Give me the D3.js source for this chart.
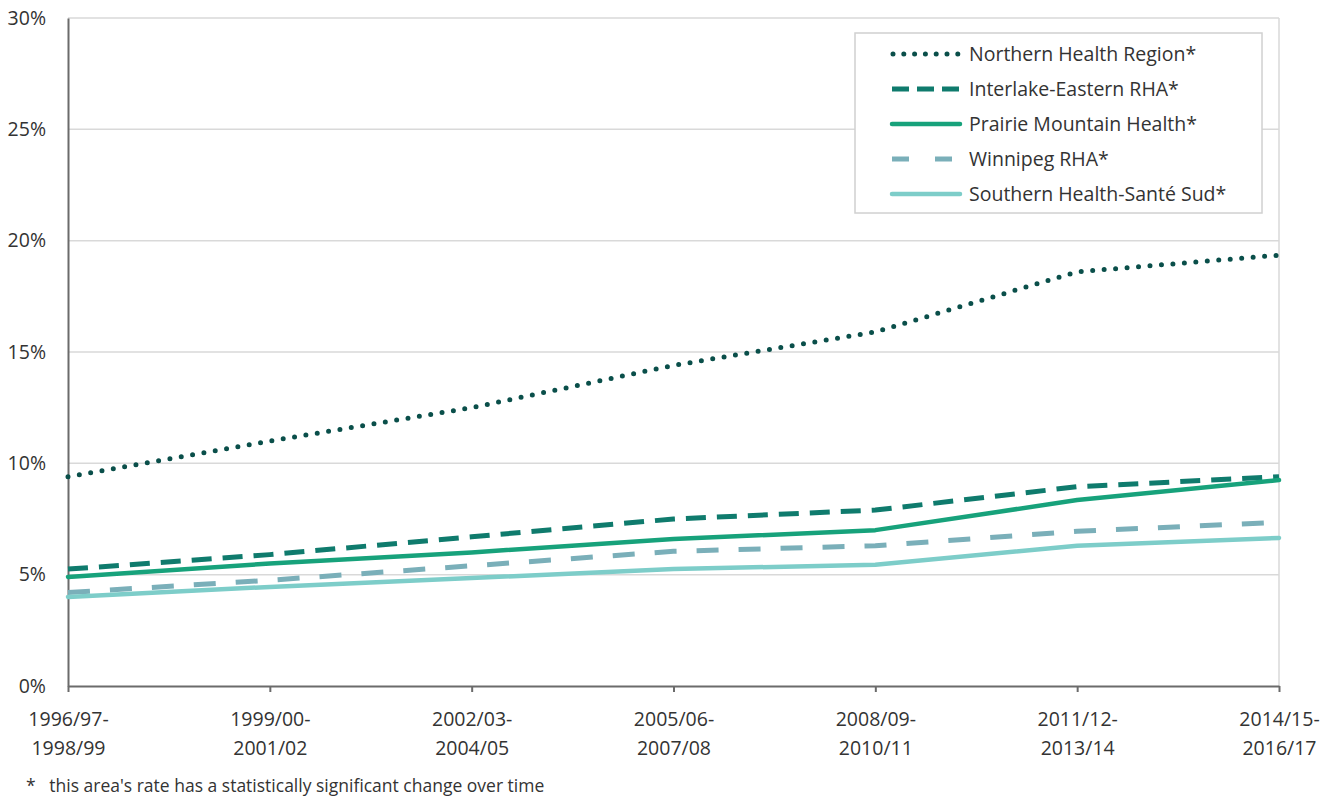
<!DOCTYPE html>
<html><head><meta charset="utf-8">
<script src="https://cdn.jsdelivr.net/npm/d3@7"></script>
<style>body{margin:0;background:#fff}svg{display:block;font-family:"Open Sans",sans-serif}</style>
</head><body><svg id="c" width="1339" height="797"></svg>
<script>
const categories = [["1996/97-","1998/99"],["1999/00-","2001/02"],["2002/03-","2004/05"],["2005/06-","2007/08"],["2008/09-","2010/11"],["2011/12-","2013/14"],["2014/15-","2016/17"]];
const seriesNames = ["Northern Health Region*","Interlake-Eastern RHA*","Prairie Mountain Health*","Winnipeg RHA*","Southern Health-Santé Sud*"];
const northern = [9.4, 11.0, 12.5, 14.4, 15.9, 18.6, 19.35];
const interlake = [5.25, 5.9, 6.7, 7.5, 7.9, 8.95, 9.4];
const prairie = [4.9, 5.5, 6.0, 6.6, 7.0, 8.35, 9.25];
const winnipeg = [4.2, 4.75, 5.4, 6.05, 6.3, 6.95, 7.35];
const southern = [4.0, 4.45, 4.85, 5.25, 5.45, 6.3, 6.65];
const yTicks = [0,5,10,15,20,25,30];
const footnote = "*   this area's rate has a statistically significant change over time";

const styles = [
  {color:"#0a4f4a", dash:"0,11.5", width:5},
  {color:"#0f7b6d", dash:"20,11", width:5, cap:"butt"},
  {color:"#17a27b", dash:null, width:4.5},
  {color:"#7aafb9", dash:"22,20", width:5, cap:"butt"},
  {color:"#7dcdc9", dash:null, width:4.5}
];
const data = [northern, interlake, prairie, winnipeg, southern];

const svg = d3.select("#c");
const L=68, R=1279, T=18, B=686;
const x = d3.scalePoint().domain(d3.range(categories.length)).range([L,R]);
const y = d3.scaleLinear().domain([0,30]).range([B,T]);

// gridlines
svg.append("g").selectAll("line").data(yTicks.filter(d=>d>0)).join("line")
  .attr("x1",L).attr("x2",R).attr("y1",d=>y(d)).attr("y2",d=>y(d))
  .attr("stroke","#d9d9d9").attr("stroke-width",1.5);
svg.append("line").attr("x1",R).attr("x2",R).attr("y1",T).attr("y2",B).attr("stroke","#d9d9d9").attr("stroke-width",1.5);

// y axis
const ya = svg.append("g").attr("transform",`translate(${L},0)`)
  .call(d3.axisLeft(y).tickValues(yTicks).tickFormat(d=>d+"%").tickSize(0).tickPadding(22));
ya.select(".domain").attr("stroke","#6b6b6b").attr("stroke-width",2);
ya.selectAll("text").attr("font-size",19.5).attr("fill","#333").attr("font-family","Open Sans");

// x axis
const xa = svg.append("g").attr("transform",`translate(0,${B})`)
  .call(d3.axisBottom(x).tickSize(6).tickSizeOuter(0).tickFormat(""));
xa.select(".domain").attr("stroke","#6b6b6b").attr("stroke-width",2);
xa.selectAll(".tick line").attr("stroke","#6b6b6b").attr("stroke-width",2);
xa.selectAll(".tick").each(function(d){
  const t = d3.select(this).append("text").attr("fill","#333").attr("font-size",19.5).attr("text-anchor","middle").attr("font-family","Open Sans");
  t.append("tspan").attr("x",0).attr("y",40).text(categories[d][0]);
  t.append("tspan").attr("x",0).attr("y",69).text(categories[d][1]);
});

// lines
const line = d3.line().x((d,i)=>x(i)).y(d=>y(d));
data.forEach((s,k)=>{
  const st = styles[k];
  svg.append("path").datum(s).attr("d",line).attr("fill","none")
    .attr("stroke",st.color).attr("stroke-width",st.width)
    .attr("stroke-dasharray",st.dash).attr("stroke-linecap",st.cap||"round").attr("stroke-linejoin","round");
});

// legend
const lg = svg.append("g");
lg.append("rect").attr("x",855).attr("y",33).attr("width",407).attr("height",180).attr("fill","#fff").attr("stroke","#d0d0d0").attr("stroke-width",1.5);
seriesNames.forEach((n,k)=>{
  const st = styles[k];
  const yy = 54 + k*35;
  lg.append("line").attr("x1",k===0?893:892).attr("x2",k===0?958:960).attr("y1",yy).attr("y2",yy)
    .attr("stroke",st.color).attr("stroke-width",st.width)
    .attr("stroke-dasharray",k===0?"0,10.8":(k===1?"17,8":(k===3?"17,26":null)))
    .attr("stroke-linecap",st.cap||"round");
  lg.append("text").attr("x",969).attr("y",yy+7).attr("font-size",19.5).attr("fill","#333").text(n);
});

// footnote
svg.append("text").attr("x",26).attr("y",792).attr("font-size",17.5).attr("fill","#333").attr("xml:space","preserve").text(footnote);
</script></body></html>
